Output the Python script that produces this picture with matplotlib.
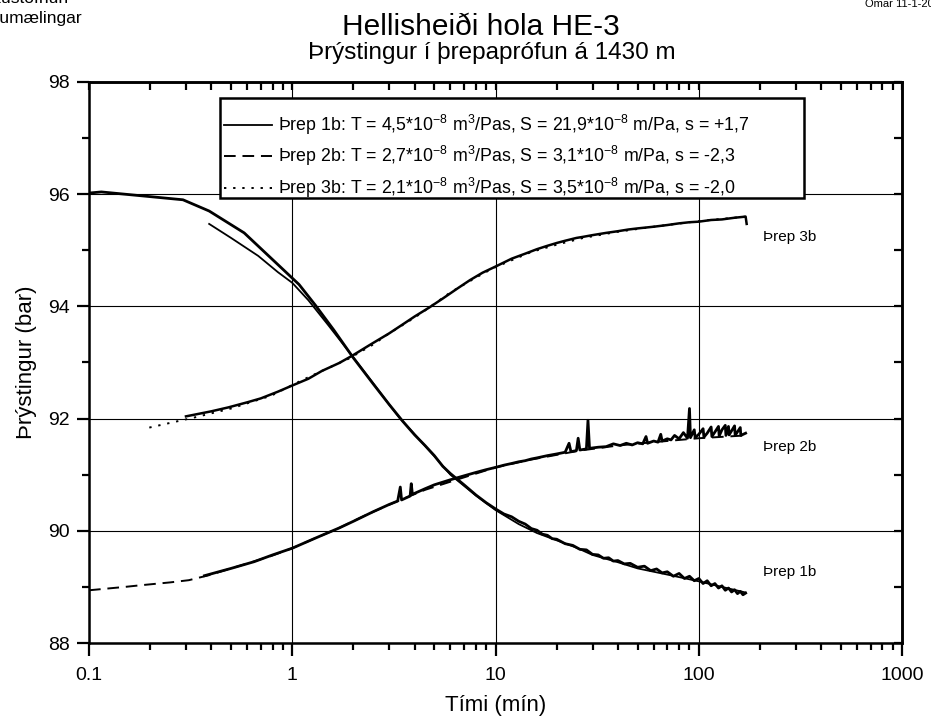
import matplotlib
matplotlib.use("Agg")
import matplotlib.pyplot as plt
from matplotlib.ticker import MultipleLocator, FixedLocator, FixedFormatter, NullFormatter, LogLocator
from matplotlib.patches import Rectangle

plt.rcParams['font.family'] = ['Liberation Sans', 'DejaVu Sans']
plt.rcParams['mathtext.fontset'] = 'custom'
plt.rcParams['mathtext.rm'] = 'Liberation Sans'
plt.rcParams['mathtext.it'] = 'Liberation Sans:italic'
plt.rcParams['mathtext.bf'] = 'Liberation Sans:bold'

# Þrep 1b - mæling
t1b = [0.1, 0.115, 0.29, 0.39, 0.58, 1.08, 1.3, 1.6, 2.0, 2.5, 3.0, 3.5, 4.0, 4.5, 5.0, 5.5, 6.0, 7.0, 8.0, 9.0,
       10, 11, 12, 13, 14, 15, 16, 17, 18, 19, 20, 22, 24, 26, 28, 30, 32, 34, 36, 38, 40, 43, 46, 50, 54, 58,
       62, 66, 70, 75, 80, 85, 90, 95, 100, 105, 110, 115, 120, 125, 130, 135, 140, 145, 150, 155, 160, 165, 170]
p1b = [96.02, 96.04, 95.90, 95.70, 95.31, 94.39, 94.02, 93.58, 93.08, 92.62, 92.25, 91.95, 91.71, 91.52, 91.34,
       91.15, 91.02, 90.82, 90.64, 90.50, 90.39, 90.30, 90.25, 90.17, 90.12, 90.04, 90.01, 89.94, 89.92, 89.86,
       89.85, 89.77, 89.74, 89.67, 89.66, 89.58, 89.57, 89.51, 89.52, 89.46, 89.47, 89.41, 89.42, 89.35, 89.37,
       89.29, 89.32, 89.25, 89.27, 89.19, 89.24, 89.15, 89.19, 89.11, 89.15, 89.06, 89.11, 89.02, 89.06, 88.98,
       89.02, 88.94, 88.98, 88.91, 88.95, 88.88, 88.92, 88.86, 88.89]
# Þrep 1b - líkan
t1f = [0.39, 0.5, 0.68, 0.85, 1.0, 1.2, 1.5, 1.97, 2.5, 3.0, 3.36, 4.0, 4.72, 5.0, 6.0, 8.0, 10, 13, 16, 20,
       25, 30, 40, 50, 70, 100, 130, 170]
p1f = [95.47, 95.22, 94.90, 94.61, 94.42, 94.11, 93.67, 93.12, 92.63, 92.25, 92.02, 91.72, 91.43, 91.33, 91.00,
       90.63, 90.37, 90.12, 89.96, 89.83, 89.70, 89.57, 89.44, 89.33, 89.22, 89.10, 89.00, 88.90]

# Þrep 2b - mæling
t2b = [0.37, 0.5, 0.65, 0.8, 1.0, 1.3, 1.7, 2.0, 2.5, 3.0, 3.3, 3.4, 3.45, 3.8, 3.85, 3.9, 4.5, 5.0, 6.0, 7.0,
       8, 9, 10, 11, 12, 13, 14, 15, 16, 18, 20, 22, 23, 23.5, 25, 25.5, 26, 28, 28.5, 29, 32, 35, 38, 41, 44,
       47, 50, 53, 55, 56, 60, 63, 65, 66, 70, 73, 76, 80, 84, 88, 90, 91, 95, 96, 100, 105, 106, 110, 115,
       116, 120, 125, 126, 130, 135, 136, 140, 141, 150, 151, 160, 161, 170]
p2b = [89.20, 89.33, 89.45, 89.57, 89.69, 89.87, 90.05, 90.17, 90.34, 90.47, 90.53, 90.78, 90.55, 90.62, 90.84,
       90.65, 90.75, 90.82, 90.91, 90.98, 91.04, 91.09, 91.13, 91.17, 91.20, 91.23, 91.25, 91.28, 91.30, 91.34,
       91.37, 91.40, 91.56, 91.41, 91.43, 91.65, 91.44, 91.46, 91.97, 91.47, 91.49, 91.50, 91.55, 91.52, 91.56,
       91.53, 91.57, 91.55, 91.68, 91.56, 91.60, 91.58, 91.72, 91.60, 91.64, 91.62, 91.70, 91.64, 91.75, 91.65,
       92.18, 91.66, 91.80, 91.66, 91.72, 91.82, 91.67, 91.74, 91.85, 91.68, 91.76, 91.86, 91.69, 91.80, 91.88,
       91.70, 91.86, 91.71, 91.87, 91.70, 91.84, 91.70, 91.74]
# Þrep 2b - líkan
t2f = [0.1, 0.15, 0.18, 0.25, 0.31, 0.39, 0.5, 0.63, 0.8, 1.0, 1.3, 1.7, 2.3, 3.2, 4.5, 6.3, 10, 15, 26, 40,
       60, 100, 170]
p2f = [88.94, 89.00, 89.03, 89.08, 89.12, 89.21, 89.33, 89.44, 89.56, 89.69, 89.87, 90.05, 90.28, 90.51, 90.73,
       90.90, 91.13, 91.27, 91.43, 91.52, 91.58, 91.65, 91.70]

# Þrep 3b - mæling
t3b = [0.30, 0.4, 0.485, 0.6, 0.7, 0.85, 1.0, 1.2, 1.4, 1.7, 1.97, 2.4, 3.0, 3.5, 4.0, 4.72, 5.5, 6.5, 7.5, 8.63,
       10, 12, 14, 16, 18, 20, 22, 25, 27, 30, 35, 40, 45, 50, 60, 70, 80, 90, 100, 115, 130, 150, 170, 172]
p3b = [92.04, 92.13, 92.20, 92.29, 92.36, 92.48, 92.59, 92.71, 92.85, 92.99, 93.12, 93.31, 93.52, 93.68, 93.82,
       93.98, 94.14, 94.32, 94.47, 94.60, 94.71, 94.85, 94.94, 95.02, 95.08, 95.13, 95.17, 95.22, 95.24, 95.27,
       95.31, 95.34, 95.37, 95.39, 95.42, 95.45, 95.48, 95.50, 95.51, 95.54, 95.55, 95.58, 95.60, 95.47]
# Þrep 3b - líkan
t3f = [0.198, 0.33, 0.5, 0.79, 1.11, 1.5, 1.9, 2.5, 3.0, 4.0, 4.72, 6.0, 8.63, 10, 15, 20, 27, 40, 60, 100, 170]
p3f = [91.84, 92.02, 92.18, 92.41, 92.68, 92.90, 93.07, 93.32, 93.52, 93.80, 93.98, 94.25, 94.58, 94.70, 94.97,
       95.10, 95.22, 95.33, 95.42, 95.52, 95.60]

legend_labels = [
    r'Þrep 1b: T = 4,5*10$^{-8}$ m$^{3}$/Pas, S = 21,9*10$^{-8}$ m/Pa, s = +1,7',
    r'Þrep 2b: T = 2,7*10$^{-8}$ m$^{3}$/Pas, S = 3,1*10$^{-8}$ m/Pa, s = -2,3',
    r'Þrep 3b: T = 2,1*10$^{-8}$ m$^{3}$/Pas, S = 3,5*10$^{-8}$ m/Pa, s = -2,0',
]
curve_labels = ['Þrep 1b', 'Þrep 2b', 'Þrep 3b']
curve_label_pos = [(206, 89.27), (206, 91.49), (206, 95.24)]
x_ticks = [0.1, 1, 10, 100, 1000]
x_ticklabels = ['0.1', '1', '10', '100', '1000']

fig = plt.figure(figsize=(9.31, 7.26), dpi=100)
ax = fig.add_axes([0.0956, 0.1143, 0.8733, 0.7728])

# mælingar
ax.plot(t1b, p1b, color='black', lw=2.0)
ax.plot(t2b, p2b, color='black', lw=2.0)
ax.plot(t3b, p3b, color='black', lw=1.8)
# líkön
h1, = ax.plot(t1f, p1f, color='black', lw=1.3, ls='-')
h2, = ax.plot(t2f, p2f, color='black', lw=1.4, ls=(0, (6, 3.5)))
h3, = ax.plot(t3f, p3f, color='black', lw=1.4, ls=(0, (1.2, 3.5)))

for lab, (tx, py) in zip(curve_labels, curve_label_pos):
    ax.text(tx, py, lab, fontsize=11, va='center', ha='left')

ax.set_xscale('log')
ax.set_xlim(0.1, 1000)
ax.set_ylim(88, 98)
ax.xaxis.set_major_locator(FixedLocator(x_ticks))
ax.xaxis.set_major_formatter(FixedFormatter(x_ticklabels))
ax.xaxis.set_minor_locator(LogLocator(base=10, subs=range(2, 10)))
ax.xaxis.set_minor_formatter(NullFormatter())
ax.yaxis.set_major_locator(MultipleLocator(2))
ax.yaxis.set_minor_locator(MultipleLocator(1))

ax.tick_params(which='major', direction='out', length=9, width=1.6, labelsize=14)
ax.tick_params(axis='x', which='major', pad=8)
ax.tick_params(axis='y', which='major', pad=5)
ax.tick_params(which='minor', direction='out', length=5, width=1.6)
ax.grid(True, which='major', color='black', lw=0.8)
for sp in ax.spines.values():
    sp.set_linewidth(1.8)

# innri merki að ofan og hægra megin
secx = ax.secondary_xaxis('top')
secx.xaxis.set_major_locator(FixedLocator(x_ticks))
secx.xaxis.set_minor_locator(LogLocator(base=10, subs=range(2, 10)))
secx.xaxis.set_major_formatter(NullFormatter())
secx.xaxis.set_minor_formatter(NullFormatter())
secx.tick_params(which='both', direction='in', length=6, width=1.6)
secy = ax.secondary_yaxis('right')
secy.yaxis.set_major_locator(MultipleLocator(2))
secy.yaxis.set_minor_locator(MultipleLocator(1))
secy.yaxis.set_major_formatter(NullFormatter())
secy.tick_params(which='both', direction='in', length=6, width=1.6)
for s in (secx, secy):
    for sp in s.spines.values():
        sp.set_linewidth(1.8)

ax.set_xlabel('Tími (mín)', fontsize=16, labelpad=8)
ax.set_ylabel('Þrýstingur (bar)', fontsize=16, labelpad=8)

# skýringarkassi
box = Rectangle((0.161, 0.794), 0.718, 0.177, transform=ax.transAxes, facecolor='white',
                edgecolor='black', lw=1.8, zorder=5)
ax.add_patch(box)
leg = ax.legend([h1, h2, h3], legend_labels, loc='upper left', bbox_to_anchor=(0.166, 0.945),
                frameon=False, fontsize=12.8, handlelength=2.7, handletextpad=0.35,
                labelspacing=0.42, borderaxespad=0, borderpad=0)
leg.set_zorder(6)

fig.text(481 / 931, 1 - 35 / 726, 'Hellisheiði hola HE-3', fontsize=21.5, ha='center', va='baseline')
fig.text(492 / 931, 1 - 59 / 726, 'Þrýstingur í þrepaprófun á 1430 m', fontsize=17.5, ha='center', va='baseline')
fig.text(68 / 931, 1 - 3 / 726, 'Orkustofnun', fontsize=12.5, ha='right', va='baseline')
fig.text(82 / 931, 1 - 23 / 726, 'Borholumælingar', fontsize=12.5, ha='right', va='baseline')
fig.text(865 / 931, 1 - 7 / 726, 'Ómar 11-1-2002', fontsize=8, ha='left', va='baseline')

fig.savefig('out.png', dpi=100)
